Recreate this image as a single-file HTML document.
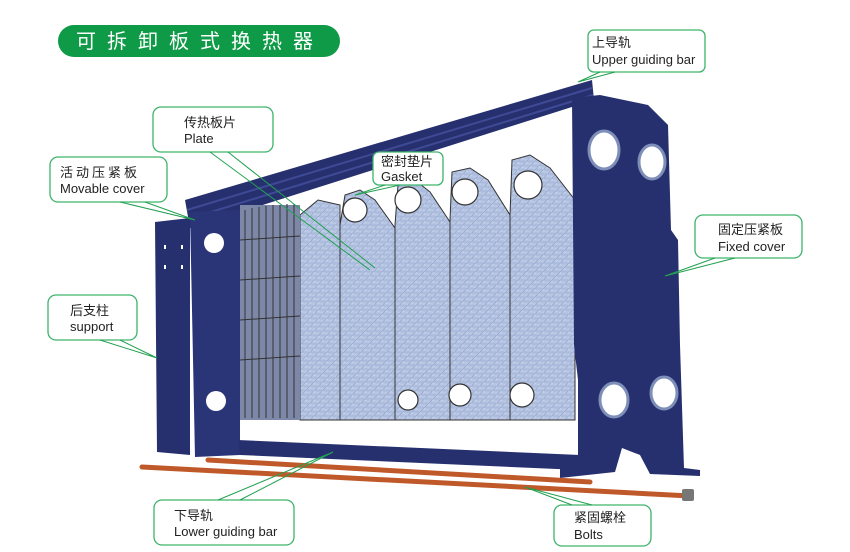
<!DOCTYPE html>
<html><head><meta charset="utf-8"><style>
html,body{margin:0;padding:0;background:#fff;}
svg{display:block}
.cn{font-family:"Liberation Sans","Noto Sans CJK SC",sans-serif;font-size:13px;fill:#222}
.en{font-family:"Liberation Sans",sans-serif;font-size:13px;fill:#222}
.box{fill:#fff;stroke:#3db36b;stroke-width:1.3}
.ld{stroke:#22a050;stroke-width:1;fill:none}
</style></head><body>
<svg width="850" height="552" viewBox="0 0 850 552" xmlns="http://www.w3.org/2000/svg">
<defs>
<linearGradient id="pl" x1="0" y1="0" x2="1" y2="1">
<stop offset="0" stop-color="#d6dff0"/><stop offset="0.5" stop-color="#a8b9dc"/><stop offset="1" stop-color="#c8d3ea"/>
</linearGradient>
<pattern id="hatch" width="6" height="6" patternUnits="userSpaceOnUse" patternTransform="rotate(45)">
<rect width="6" height="6" fill="url(#pl)"/><line x1="0" y1="0" x2="0" y2="6" stroke="#8a9cc4" stroke-width="1"/>
</pattern>
</defs>

<!-- title -->
<rect x="58" y="25" width="282" height="32" rx="16" fill="#0e9a46"/>
<text x="76" y="48" font-family="Liberation Sans,'Noto Sans CJK SC',sans-serif" font-size="20" fill="#fff" letter-spacing="11">可拆卸板式换热器</text>

<!-- upper bar -->
<polygon points="185,200 592,80 594,100 190,228" fill="#27306e"/>
<line x1="187" y1="210" x2="592" y2="88" stroke="#3e4a95" stroke-width="2"/>
<line x1="188" y1="219" x2="593" y2="95" stroke="#3e4a95" stroke-width="2"/>

<!-- plate pack -->
<g fill="url(#hatch)" stroke="#333" stroke-width="1">
<polygon points="300,215 318,200 340,205 340,420 300,420"/>
<polygon points="340,225 345,195 360,190 375,200 395,228 395,420 340,420"/>
<polygon points="395,225 398,185 415,180 430,192 450,222 450,420 395,420"/>
<polygon points="450,220 452,172 470,168 488,180 510,215 510,420 450,420"/>
<polygon points="510,215 512,160 530,155 550,168 575,200 575,420 510,420"/>
</g>
<rect x="240" y="205" width="60" height="215" fill="#7d88a8"/>
<g stroke="#333" stroke-width="1" fill="none">
<path d="M245,210 L245,418 M252,208 L252,418 M259,207 L259,418 M266,206 L266,418 M273,205 L273,418 M280,205 L280,418 M287,204 L287,418 M294,204 L294,418"/>
<path d="M240,240 L300,236 M240,280 L300,276 M240,320 L300,316 M240,360 L300,356"/>
</g>
<g fill="#fff" stroke="#333" stroke-width="1.2">
<circle cx="355" cy="210" r="12"/><circle cx="408" cy="200" r="13"/><circle cx="465" cy="192" r="13"/><circle cx="528" cy="185" r="14"/>
<circle cx="460" cy="395" r="11"/><circle cx="522" cy="395" r="12"/><circle cx="408" cy="400" r="10"/>
</g>

<!-- movable cover -->
<polygon points="155,222 190,218 190,455 157,452" fill="#27306e"/>
<polygon points="190,212 240,210 240,455 195,457" fill="#2a3578"/>
<circle cx="214" cy="243" r="10" fill="#fff"/>
<circle cx="216" cy="401" r="10" fill="#fff"/>
<rect x="164" y="245" width="2" height="4" fill="#fff"/><rect x="181" y="245" width="2" height="4" fill="#fff"/>
<rect x="164" y="265" width="2" height="4" fill="#fff"/><rect x="181" y="265" width="2" height="4" fill="#fff"/>

<!-- fixed cover -->
<polygon points="572,98 600,95 648,105 668,125 671,230 678,240 680,345 684,468 700,470 700,476 650,474 640,455 622,448 615,472 560,478 560,465 578,460 578,380 574,345 572,100" fill="#27306e"/>
<g fill="#fff" stroke="#7d8fb8" stroke-width="3">
<ellipse cx="604" cy="150" rx="15" ry="19"/><ellipse cx="652" cy="162" rx="13" ry="17"/>
<ellipse cx="614" cy="400" rx="14" ry="17"/><ellipse cx="664" cy="393" rx="13" ry="16"/>
</g>

<!-- lower bar -->
<polygon points="238,440 580,455 580,470 240,455" fill="#27306e"/>

<!-- bolts -->
<line x1="208" y1="460" x2="590" y2="482" stroke="#c0592a" stroke-width="5" stroke-linecap="round"/>
<line x1="142" y1="467" x2="690" y2="496" stroke="#c0592a" stroke-width="5" stroke-linecap="round"/>
<rect x="682" y="489" width="12" height="12" rx="2" fill="#777"/>

<!-- labels -->
<rect class="box" x="588" y="30" width="117" height="42" rx="6"/>
<text class="cn" x="592" y="47">上导轨</text><text class="en" x="592" y="64">Upper guiding bar</text>
<path class="ld" d="M600,72 L578,82 M615,72 L578,82"/>

<rect class="box" x="153" y="107" width="120" height="45" rx="8"/>
<text class="cn" x="184" y="127">传热板片</text><text class="en" x="184" y="143">Plate</text>
<path class="ld" d="M210,152 L370,270 M228,152 L375,268"/>

<rect class="box" x="50" y="157" width="117" height="45" rx="8"/>
<text class="cn" x="60" y="177" letter-spacing="3">活动压紧板</text><text class="en" x="60" y="193">Movable cover</text>
<path class="ld" d="M120,202 L195,220 M145,202 L195,220"/>

<rect class="box" x="373" y="152" width="70" height="33" rx="6"/>
<text class="cn" x="381" y="166">密封垫片</text><text class="en" x="381" y="181">Gasket</text>
<path class="ld" d="M385,185 L355,195 M400,185 L355,195"/>

<rect class="box" x="695" y="215" width="107" height="43" rx="8"/>
<text class="cn" x="718" y="234">固定压紧板</text><text class="en" x="718" y="251">Fixed cover</text>
<path class="ld" d="M715,258 L665,276 M735,258 L665,276"/>

<rect class="box" x="48" y="295" width="89" height="45" rx="8"/>
<text class="cn" x="70" y="315">后支柱</text><text class="en" x="70" y="331">support</text>
<path class="ld" d="M100,340 L157,358 M120,340 L157,358"/>

<rect class="box" x="154" y="500" width="140" height="45" rx="8"/>
<text class="cn" x="174" y="520">下导轨</text><text class="en" x="174" y="536">Lower guiding bar</text>
<path class="ld" d="M218,500 L333,452 M240,500 L333,452"/>

<rect class="box" x="554" y="505" width="97" height="41" rx="8"/>
<text class="cn" x="574" y="522">紧固螺栓</text><text class="en" x="574" y="539">Bolts</text>
<path class="ld" d="M572,505 L525,487 M592,505 L525,487"/>
</svg>
</body></html>
